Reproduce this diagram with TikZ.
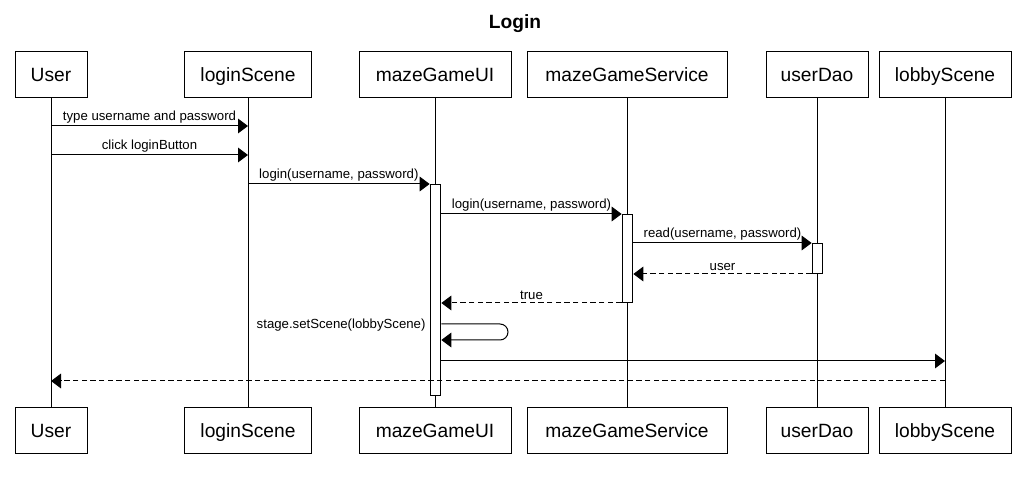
\documentclass[tikz,border=0pt]{standalone}
\usepackage{fontspec}
\setmainfont{Liberation Sans}
\usetikzlibrary{arrows.meta}

\begin{document}
\begin{tikzpicture}[x=0.75pt, y=-0.75pt, line width=0.75pt,
        actor/.style={draw, fill=white, minimum height=34.5pt, inner sep=0pt,
            text height=10.3pt, text depth=0pt,
            font=\fontsize{14.4}{16}\selectfont},
        activation/.style={draw, fill=white, anchor=north, minimum width=8pt, inner sep=0pt},
        msg/.style={midway, above, inner sep=2pt, font=\fontsize{9.9}{11}\selectfont},
        call/.style={-{Triangle[length=7.5pt, width=11pt]}},
        reply/.style={call, dash pattern=on 4pt off 2.5pt}]
        \def \px {0.75pt}

        \useasboundingbox (0,0) rectangle (1026,477);

        \node[font=\fontsize{14.4}{16}\selectfont\bfseries, text height=10.3pt, text depth=0pt] (title) at (515,21.5) {Login};

        % top row
        \node[actor, minimum width=72*\px] (userTop) at (51,74.5) {User};
        \node[actor, minimum width=127*\px] (loginTop) at (248,74.5) {loginScene};
        \node[actor, minimum width=152*\px] (uiTop) at (435,74.5) {mazeGameUI};
        \node[actor, minimum width=200*\px] (svcTop) at (627,74.5) {mazeGameService};
        \node[actor, minimum width=102*\px] (daoTop) at (817,74.5) {userDao};
        \node[actor, minimum width=132*\px] (lobbyTop) at (945,74.5) {lobbyScene};

        % bottom row
        \node[actor, minimum width=72*\px] (userBot) at (51,431) {User};
        \node[actor, minimum width=127*\px] (loginBot) at (248,431) {loginScene};
        \node[actor, minimum width=152*\px] (uiBot) at (435,431) {mazeGameUI};
        \node[actor, minimum width=200*\px] (svcBot) at (627,431) {mazeGameService};
        \node[actor, minimum width=102*\px] (daoBot) at (817,431) {userDao};
        \node[actor, minimum width=132*\px] (lobbyBot) at (945,431) {lobbyScene};

        % lifelines
        \draw (userTop) -- (userBot);
        \draw (loginTop) -- (loginBot);
        \draw (uiTop) -- (uiBot);
        \draw (svcTop) -- (svcBot);
        \draw (daoTop) -- (daoBot);
        \draw (lobbyTop) -- (lobbyBot);

        % activations
        \node[activation, minimum height=211*\px] (actUI) at (435.5,184) {};
        \node[activation, minimum height=88*\px] (actSvc) at (627.5,214) {};
        \node[activation, minimum height=30*\px] (actDao) at (817.5,243) {};

        % messages
        \draw[call] (userTop |- 0,126) -- node[msg] {type username and password} (loginTop |- 0,126);
        \draw[call] (userTop |- 0,155) -- node[msg] {click loginButton} (loginTop |- 0,155);
        \draw[call] (loginTop |- actUI.north) -- node[msg] {login(username, password)} (actUI.north west);
        \draw[call] (actUI.east |- actSvc.north) -- node[msg] {login(username, password)} (actSvc.north west);
        \draw[call] (actSvc.east |- actDao.north) -- node[msg] {read(username, password)} (actDao.north west);
        \draw[reply] (actDao.south west) -- node[msg] {user} (actSvc.east |- actDao.south);
        \draw[reply] (actSvc.south west) -- node[msg] {true} (actUI.east |- actSvc.south);

        \node[anchor=east, inner sep=0pt, font=\fontsize{9.9}{11}\selectfont] (selfLbl) at (426,325) {stage.setScene(lobbyScene)};
        \draw[call, rounded corners=6pt] (actUI.east |- 0,324) -- (508,324) -- (508,340) -- (actUI.east |- 0,340);

        \draw[call] (actUI.east |- 0,361) -- (lobbyTop |- 0,361);
        \draw[reply] (lobbyTop |- 0,381) -- (userTop |- 0,381);
    \end{tikzpicture}
\end{document}
